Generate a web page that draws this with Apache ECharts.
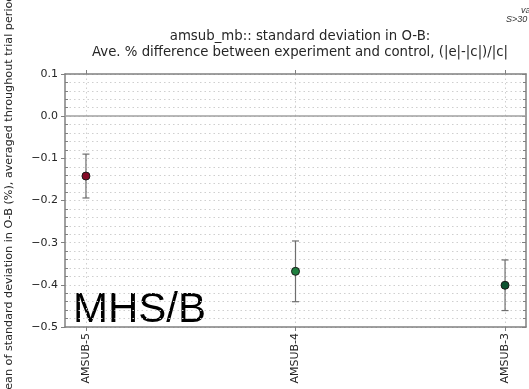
<!DOCTYPE html>
<html>
<head>
<meta charset="utf-8">
<title>amsub_mb std dev O-B</title>
<script src="https://cdn.jsdelivr.net/npm/echarts@6/dist/echarts.min.js"></script>
<style>
  html, body { margin: 0; padding: 0; background: #fff; }
  #chart { width: 529px; height: 389px; }
</style>
</head>
<body>
<div id="chart"></div>
<script>
// channels along the x axis
const categories = ["AMSUB-5", "AMSUB-4", "AMSUB-3"];
// mean % difference and error bar half-widths
const means = [-0.142, -0.368, -0.401];
const errors = [0.052, 0.072, 0.060];
const pointColors = ["#850c28", "#1f7f3f", "#0c5230"];
const yTicks = [0.1, 0.0, -0.1, -0.2, -0.3, -0.4, -0.5];

const chart = echarts.init(document.getElementById("chart"), null, { renderer: "canvas" });

const fmtY = (v) => {
  const s = Math.abs(v).toFixed(1);
  return v < -1e-9 ? "\u2212" + s : s;
};

const spine = { show: true, onZero: false, lineStyle: { color: "#808080", width: 1.5 } };
const gridLine = { show: true, lineStyle: { color: "#cfcfcf", type: [1.5, 3], width: 1 } };

const pointData = categories.map((c, i) => ({
  value: [i, means[i]],
  itemStyle: { color: pointColors[i] }
}));
const errData = categories.map((c, i) => [i, means[i] - errors[i], means[i] + errors[i]]);

const option = {
  animation: false,
  backgroundColor: "#fff",
  textStyle: { fontFamily: "DejaVu Sans" },
  title: {
    text: "amsub_mb:: standard deviation in O-B:\nAve. % difference between experiment and control, (|e|-|c|)/|c|",
    left: 295,
    top: 24,
    textAlign: "center",
    textStyle: { fontSize: 13.3, fontWeight: "normal", color: "#262626", lineHeight: 16, fontFamily: "DejaVu Sans" }
  },
  grid: { left: 65, right: 3, top: 74, bottom: 62, containLabel: false },
  xAxis: [
    {
      type: "value",
      position: "bottom",
      min: -0.1,
      max: 2.1,
      axisLine: spine,
      axisTick: { show: true, length: 4, customValues: [0, 1, 2], lineStyle: { color: "#808080" } },
      axisLabel: {
        customValues: [0, 1, 2],
        rotate: 90,
        margin: 6,
        fontSize: 11,
        color: "#262626",
        formatter: (v) => categories[Math.round(v)]
      },
      splitLine: gridLine
    },
    {
      type: "value",
      position: "top",
      min: -0.1,
      max: 2.1,
      axisLine: spine,
      axisTick: { show: true, length: 4, customValues: [0, 1, 2], lineStyle: { color: "#808080" } },
      axisLabel: { show: false },
      splitLine: { show: false }
    }
  ],
  yAxis: [
    {
      type: "value",
      position: "left",
      min: -0.5,
      max: 0.1,
      interval: 0.1,
      axisLine: spine,
      axisTick: { show: true, length: 4, lineStyle: { color: "#808080" } },
      minorTick: { show: true, splitNumber: 5, length: -3, lineStyle: { color: "#808080" } },
      axisLabel: { margin: 7, fontSize: 11, color: "#262626", formatter: fmtY },
      splitLine: gridLine,
      minorSplitLine: gridLine
    },
    {
      type: "value",
      position: "right",
      min: -0.5,
      max: 0.1,
      interval: 0.1,
      axisLine: spine,
      axisTick: { show: true, inside: true, length: 4, lineStyle: { color: "#808080" } },
      minorTick: { show: true, splitNumber: 5, length: 3, lineStyle: { color: "#808080" } },
      axisLabel: { show: false },
      splitLine: { show: false }
    }
  ],
  series: [
    {
      type: "custom",
      name: "error",
      xAxisIndex: 0,
      yAxisIndex: 0,
      data: errData,
      z: 3,
      renderItem: (params, api) => {
        const x = api.value(0);
        const lo = api.coord([x, api.value(1)]);
        const hi = api.coord([x, api.value(2)]);
        const cap = 3.5;
        const style = { stroke: "#6e6e6e", lineWidth: 1.2 };
        return {
          type: "group",
          children: [
            { type: "line", shape: { x1: lo[0], y1: lo[1], x2: hi[0], y2: hi[1] }, style },
            { type: "line", shape: { x1: lo[0] - cap, y1: lo[1], x2: lo[0] + cap, y2: lo[1] }, style },
            { type: "line", shape: { x1: hi[0] - cap, y1: hi[1], x2: hi[0] + cap, y2: hi[1] }, style }
          ]
        };
      }
    },
    {
      type: "scatter",
      name: "mean",
      xAxisIndex: 0,
      yAxisIndex: 0,
      symbolSize: 8,
      z: 4,
      itemStyle: { borderColor: "#1a1a1a", borderWidth: 1, opacity: 1 },
      data: pointData,
      markLine: {
        silent: true,
        symbol: "none",
        label: { show: false },
        lineStyle: { color: "#a0a0a0", type: "solid", width: 1.5 },
        data: [{ yAxis: 0 }]
      }
    }
  ],
  graphic: [
    {
      type: "text",
      x: 9,
      y: 197,
      rotation: Math.PI / 2,
      style: {
        text: "Mean of standard deviation in O-B (%), averaged throughout trial period",
        fontSize: 11.2,
        fontFamily: "DejaVu Sans",
        fill: "#262626",
        align: "center",
        verticalAlign: "middle"
      }
    },
    {
      type: "text",
      left: 73,
      top: 289,
      style: {
        text: "MHS/B",
        fontSize: 42,
        fontFamily: "Liberation Sans",
        fill: "#000"
      }
    },
    {
      type: "text",
      x: 521,
      y: 10,
      style: { text: "valid", fontSize: 9, fontStyle: "italic", fill: "#333", verticalAlign: "middle" }
    },
    {
      type: "text",
      x: 506,
      y: 19,
      style: { text: "S>30", fontSize: 9, fontStyle: "italic", fill: "#333", verticalAlign: "middle" }
    }
  ]
};

chart.setOption(option);
window.addEventListener("resize", () => chart.resize());
</script>
</body>
</html>
